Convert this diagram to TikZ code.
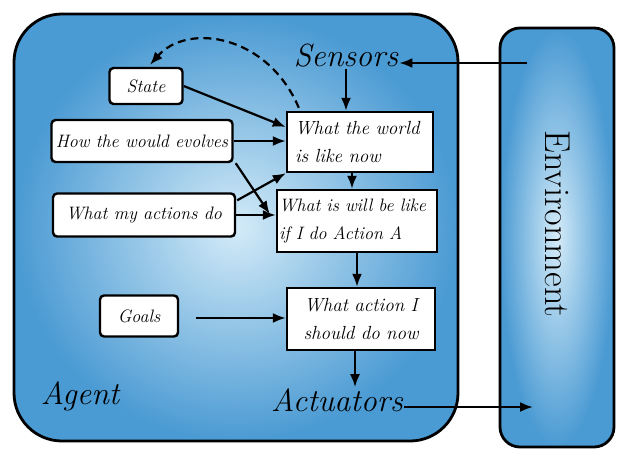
\documentclass[tikz,border=0pt]{standalone}
\usetikzlibrary{arrows.meta,calc}
\definecolor{agentlight}{RGB}{212,235,248}
\definecolor{agentdark}{RGB}{74,154,211}
\begin{document}
\begin{tikzpicture}[x=1pt,y=-1pt,
  frame/.style={line width=2.8pt, draw=black},
  lbox/.style={draw=black, line width=2.4pt, fill=white, rounded corners=4pt,
    font=\fontsize{18}{21}\selectfont\itshape, inner sep=0pt},
  rbox/.style={draw=black, line width=2.4pt, fill=white, inner sep=0pt,
    font=\fontsize{19}{28}\selectfont\itshape},
  biglabel/.style={font=\fontsize{32}{36}\selectfont\itshape, inner sep=1pt},
  arr/.style={-{Latex[length=13pt,width=10pt]}, line width=2.2pt},
  dasharr/.style={arr, dashed, dash pattern=on 8pt off 5pt}]
\useasboundingbox (0,0) rectangle (618,450);

% agent and environment panels
\shade[inner color=agentlight, outer color=agentdark, rounded corners=48pt]
  (14,14) rectangle (458,441);
\draw[frame, rounded corners=48pt] (14,14) rectangle (458,441);
\shade[inner color=agentlight, outer color=agentdark, rounded corners=20pt]
  (500,28) rectangle (614,447);
\draw[frame, rounded corners=20pt] (500,28) rectangle (614,447);

% text labels
\node[biglabel] (sensors) at (346,56) {Sensors};
\node[biglabel] (actuators) at (337,400) {Actuators};
\node[biglabel] (agent) at (80,396) {Agent};
\node[font=\fontsize{36}{40}\selectfont, rotate=-90] (env) at (558,224) {Environment};
\coordinate (envin) at (527,63);
\coordinate (envout) at (533,407);

% left-hand knowledge boxes
\node[lbox, minimum width=73pt, minimum height=36pt] (state) at (146,86) {State};
\node[lbox, minimum width=181pt, minimum height=42pt] (how) at (142,141) {How the would evolves};
\node[lbox, minimum width=182pt, minimum height=43pt] (acts) at (144,215) {What my actions do};
\node[lbox, minimum width=78pt, minimum height=41pt] (goals) at (139,316) {Goals};

% right-hand reasoning boxes
\node[rbox, minimum width=146pt, minimum height=60pt, text width=130pt, align=left] (world) at (360,142)
  {What the world\\is like now};
\node[rbox, font=\fontsize{18}{28}\selectfont\itshape, minimum width=160pt, minimum height=62pt,
  text width=156pt, align=left] (will) at (357,221)
  {What is will be like\\if I do Action A};
\node[rbox, minimum width=148pt, minimum height=62pt, text width=140pt, align=center] (action) at (361,319)
  {What action I\\should do now};

% connectors
\draw[arr] (envin) -- (envin -| sensors.east);
\draw[arr] (sensors.south) -- (sensors.south |- world.north);
\draw[arr] (state.east) -- ($(world.west)+(0,-15)$);
\draw[arr] (how.east) -- (how.east -| world.west);
\draw[arr] ($(how.south east)+(2,0)$) -- ($(will.west)+(-6,-7)$);
\draw[arr] ($(acts.north east)+(1,8)$) -- (world.south west);
\draw[arr] (acts.east) -- (acts.east -| will.west);
\draw[arr] (world.south -| 352,0) -- (will.north -| 352,0);
\draw[arr] (will.south -| 357,0) -- (action.north -| 357,0);
\draw[arr] ($(goals.east)+(17,2)$) -- ($(goals.east -| action.west)+(0,2)$);
\draw[arr] (action.south -| 355,0) -- (actuators.north -| 355,0);
\draw[arr] (actuators.east |- envout) -- (envout);
\draw[dasharr] ($(world.north west)+(13,-3)$) .. controls (268,35) and (188,22) .. ($(state.north)+(4,-2)$);
\end{tikzpicture}
\end{document}
